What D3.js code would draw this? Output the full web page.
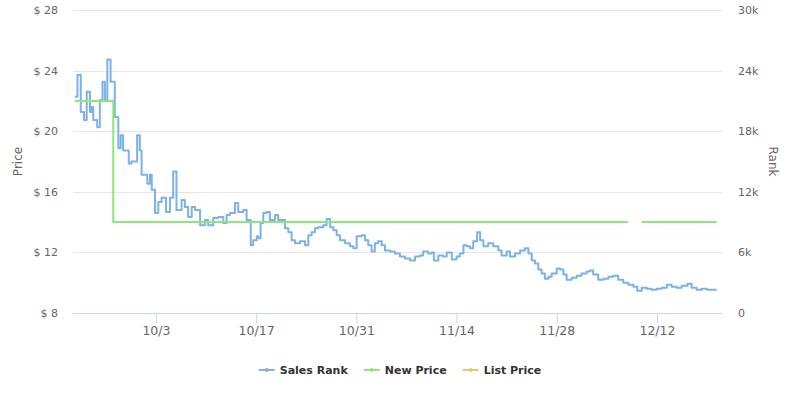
<!DOCTYPE html>
<html>
<head>
<meta charset="utf-8">
<script src="https://cdn.jsdelivr.net/npm/d3@7"></script>
<style>
  body { margin: 0; background: #fff; }
  svg { display: block; font-family: "DejaVu Sans", sans-serif; }
  .grid line { stroke: #e6e6e6; stroke-width: 1; }
  .tick-label { fill: #666; font-size: 11px; }
  .x-label { fill: #666; font-size: 12.5px; }
  .axis-title { fill: #666; font-size: 12px; }
  .legend-text { fill: #333; font-size: 11px; font-weight: bold; }
</style>
</head>
<body>
<svg id="chart" width="791" height="399"></svg>
<script>
// x axis range and ticks (month-day T hour)
var xDomain = ["09-21T10", "12-21T02"];
var xTicks = ["10-03T00", "10-17T00", "10-31T00", "11-14T00", "11-28T00", "12-12T00"];
var priceTicks = [8, 12, 16, 20, 24, 28];
var rankTicks = [0, 6000, 12000, 18000, 24000, 30000];

// Sales Rank
var rankDates = [
  "09-21T16","09-22T01","09-22T12","09-22T23","09-23T08","09-23T19","09-24T00","09-24T06",
  "09-24T19","09-25T04","09-25T13","09-25T21","09-26T05","09-26T16","09-27T06","09-27T18",
  "09-28T02","09-28T10","09-29T05","09-29T14","09-30T09","09-30T18","10-01T00","10-01T19",
  "10-02T04","10-02T10","10-02T21","10-03T08","10-03T19","10-04T10","10-04T23","10-05T10",
  "10-05T21","10-06T14","10-07T01","10-07T12","10-08T00","10-08T11","10-09T04","10-09T20",
  "10-10T07","10-11T00","10-11T17","10-12T10","10-12T21","10-13T08","10-14T01","10-14T12",
  "10-15T05","10-15T16","10-16T06","10-16T14","10-17T02","10-17T07","10-17T15","10-18T00",
  "10-18T11","10-18T22","10-19T15","10-20T02","10-20T14","10-21T01","10-21T12","10-21T23",
  "10-22T10","10-23T03","10-23T20","10-24T07","10-24T18","10-25T05","10-25T16","10-26T09",
  "10-26T20","10-27T08","10-27T19","10-28T06","10-28T17","10-29T10","10-30T03","10-30T14",
  "10-31T01","10-31T18","11-01T05","11-01T16","11-02T03","11-02T14","11-03T01","11-03T13",
  "11-04T00","11-04T17","11-05T09","11-06T02","11-06T19","11-07T12","11-08T05","11-08T21",
  "11-09T08","11-10T01","11-10T13","11-10T20","11-11T11","11-12T03","11-12T15","11-13T08",
  "11-14T00","11-14T11","11-14T23","11-15T10","11-15T21","11-16T08","11-16T21","11-17T07",
  "11-17T18","11-18T10","11-19T03","11-19T20","11-20T07","11-21T00","11-21T11","11-22T04",
  "11-22T21","11-23T13","11-24T01","11-24T12","11-24T23","11-25T10","11-25T21","11-26T08",
  "11-26T20","11-27T07","11-28T00","11-28T11","11-28T22","11-29T09","11-30T02","11-30T19",
  "12-01T11","12-02T04","12-02T15","12-03T02","12-03T19","12-04T12","12-05T05","12-05T21",
  "12-06T14","12-07T07","12-08T00","12-08T17","12-09T06","12-09T21","12-10T14","12-11T06",
  "12-11T23","12-12T16","12-13T09","12-14T01","12-14T18","12-15T11","12-16T06","12-16T20",
  "12-17T13","12-18T06","12-18T23","12-19T16","12-20T08"
];
var rankValues = [
  21400,23600,19900,19100,21900,19900,20400,19100,
  18400,21100,22900,21100,25100,22900,19400,16300,
  17600,16100,14800,15000,17600,16100,13700,12800,
  13700,12200,9900,11000,11400,10000,11400,14000,
  10200,11200,10500,9500,10500,10200,8700,9200,
  8700,9400,9500,8900,9700,9900,10900,10000,
  10200,9200,6700,7200,7600,7400,8900,9900,
  10000,9200,9700,9200,9200,8400,8000,7200,
  6900,7100,6700,7700,8000,8400,8500,8700,
  9300,8500,8200,7700,7200,6900,6600,6400,
  7600,7700,7200,6700,6100,6900,7100,6700,
  6200,6100,5900,5600,5400,5200,5600,5700,
  6100,5900,6000,5200,5700,5600,6000,5300,
  5600,5900,6700,6600,6400,7100,8000,7200,
  6600,6900,6600,6200,5700,6100,5600,5900,
  6200,6400,5900,5200,4900,4300,3900,3400,
  3600,3900,4400,4300,3800,3300,3500,3700,
  3900,4100,4200,3800,3300,3400,3600,3700,
  3300,3000,2800,2600,2200,2500,2400,2300,
  2400,2500,2800,2600,2500,2700,2900,2500,
  2300,2400,2300,2300,2300
];

// New Price (null = no offer)
var newPriceDates = ["09-21T16", "09-27T01", "12-07T23", "12-08T12", "12-09T21", "12-20T08"];
var newPriceValues = [22, 14, 14, null, 14, 14];

// List Price has no points in this range
var listPriceDates = [];
var listPriceValues = [];

var seriesNames = ["Sales Rank", "New Price", "List Price"];
var seriesColors = ["#7cb2e8", "#8fe47c", "#d6d36a"];

(function(){
  var parse = d3.utcParse("%m-%dT%H");
  var svg = d3.select("#chart");

  var plotLeft = 73, plotRight = 722, plotTop = 10, plotBottom = 313;

  var x = d3.scaleUtc().domain(xDomain.map(parse)).range([plotLeft, plotRight]);
  var yPrice = d3.scaleLinear().domain([8, 28]).range([plotBottom, plotTop]);
  var yRank = d3.scaleLinear().domain([0, 30000]).range([plotBottom, plotTop]);

  // grid
  var grid = svg.append("g").attr("class", "grid");
  grid.selectAll("line")
    .data(priceTicks.slice(1))
    .enter().append("line")
    .attr("x1", plotLeft).attr("x2", plotRight)
    .attr("y1", function(d){ return Math.round(yPrice(d)) + 0.5; })
    .attr("y2", function(d){ return Math.round(yPrice(d)) + 0.5; });

  // x axis
  var xAxis = svg.append("g")
    .attr("transform", "translate(0," + (plotBottom + 0.5) + ")")
    .call(d3.axisBottom(x)
      .tickValues(xTicks.map(parse))
      .tickSize(10)
      .tickPadding(3)
      .tickFormat(d3.utcFormat("%-m/%-d")));
  xAxis.select(".domain").attr("stroke", "#ccd6eb").attr("d", "M" + plotLeft + ",0H" + plotRight);
  xAxis.selectAll(".tick line").attr("stroke", "#ccd6eb");
  xAxis.selectAll(".tick text").attr("class", "x-label").attr("fill", null);
  xAxis.attr("font-family", null).attr("font-size", null);

  // left axis
  var yAxisL = svg.append("g")
    .attr("transform", "translate(" + (plotLeft - 15) + ",0)")
    .call(d3.axisLeft(yPrice).tickValues(priceTicks).tickSize(0)
      .tickFormat(function(d){ return "$ " + d; }));
  yAxisL.select(".domain").remove();
  yAxisL.selectAll("text").attr("class", "tick-label").attr("fill", null).attr("x", 0);
  yAxisL.attr("font-family", null).attr("font-size", null);

  // right axis
  var yAxisR = svg.append("g")
    .attr("transform", "translate(" + (plotRight + 16) + ",0)")
    .call(d3.axisRight(yRank).tickValues(rankTicks).tickSize(0)
      .tickFormat(function(d){ return d === 0 ? "0" : (d / 1000) + "k"; }));
  yAxisR.select(".domain").remove();
  yAxisR.selectAll("text").attr("class", "tick-label").attr("fill", null).attr("x", 0);
  yAxisR.attr("font-family", null).attr("font-size", null);

  // axis titles
  svg.append("text").attr("class", "axis-title")
    .attr("transform", "translate(22," + ((plotTop + plotBottom) / 2) + ") rotate(-90)")
    .attr("text-anchor", "middle").text("Price");
  svg.append("text").attr("class", "axis-title")
    .attr("transform", "translate(769," + ((plotTop + plotBottom) / 2) + ") rotate(90)")
    .attr("text-anchor", "middle").text("Rank");

  // series
  var plot = svg.append("g");

  var rankLine = d3.line()
    .curve(d3.curveStepAfter)
    .x(function(d){ return x(d[0]); })
    .y(function(d){ return yRank(d[1]); });
  plot.append("path")
    .datum(rankDates.map(function(d, i){ return [parse(d), rankValues[i]]; }))
    .attr("d", rankLine)
    .attr("fill", "none")
    .attr("stroke", seriesColors[0])
    .attr("stroke-width", 2)
    .attr("stroke-linejoin", "round");

  var priceLine = d3.line()
    .curve(d3.curveStepAfter)
    .defined(function(d){ return d[1] != null; })
    .x(function(d){ return x(d[0]); })
    .y(function(d){ return yPrice(d[1]); });
  plot.append("path")
    .datum(newPriceDates.map(function(d, i){ return [parse(d), newPriceValues[i]]; }))
    .attr("d", priceLine)
    .attr("fill", "none")
    .attr("stroke", seriesColors[1])
    .attr("stroke-width", 2);
  plot.append("path")
    .datum(listPriceDates.map(function(d, i){ return [parse(d), listPriceValues[i]]; }))
    .attr("d", priceLine)
    .attr("fill", "none")
    .attr("stroke", seriesColors[2])
    .attr("stroke-width", 2);

  // legend
  var legend = svg.append("g").attr("transform", "translate(0,370)");
  var items = legend.selectAll("g").data(seriesNames).enter().append("g");
  items.append("line")
    .attr("x1", 0).attr("x2", 16).attr("y1", 0).attr("y2", 0)
    .attr("stroke", function(d, i){ return seriesColors[i]; })
    .attr("stroke-width", 2);
  items.append("circle")
    .attr("cx", 8).attr("cy", 0).attr("r", 2)
    .attr("fill", function(d, i){ return seriesColors[i]; });
  items.append("text")
    .attr("class", "legend-text")
    .attr("x", 21).attr("y", 4)
    .text(function(d){ return d; });

  var widths = [];
  items.each(function(){ widths.push(21 + this.querySelector("text").getComputedTextLength()); });
  var gap = 16;
  var total = d3.sum(widths) + gap * (widths.length - 1);
  var start = 400 - total / 2;
  items.attr("transform", function(d, i){
    return "translate(" + (start + d3.sum(widths.slice(0, i)) + gap * i) + ",0)";
  });
})();
</script>
</body>
</html>
